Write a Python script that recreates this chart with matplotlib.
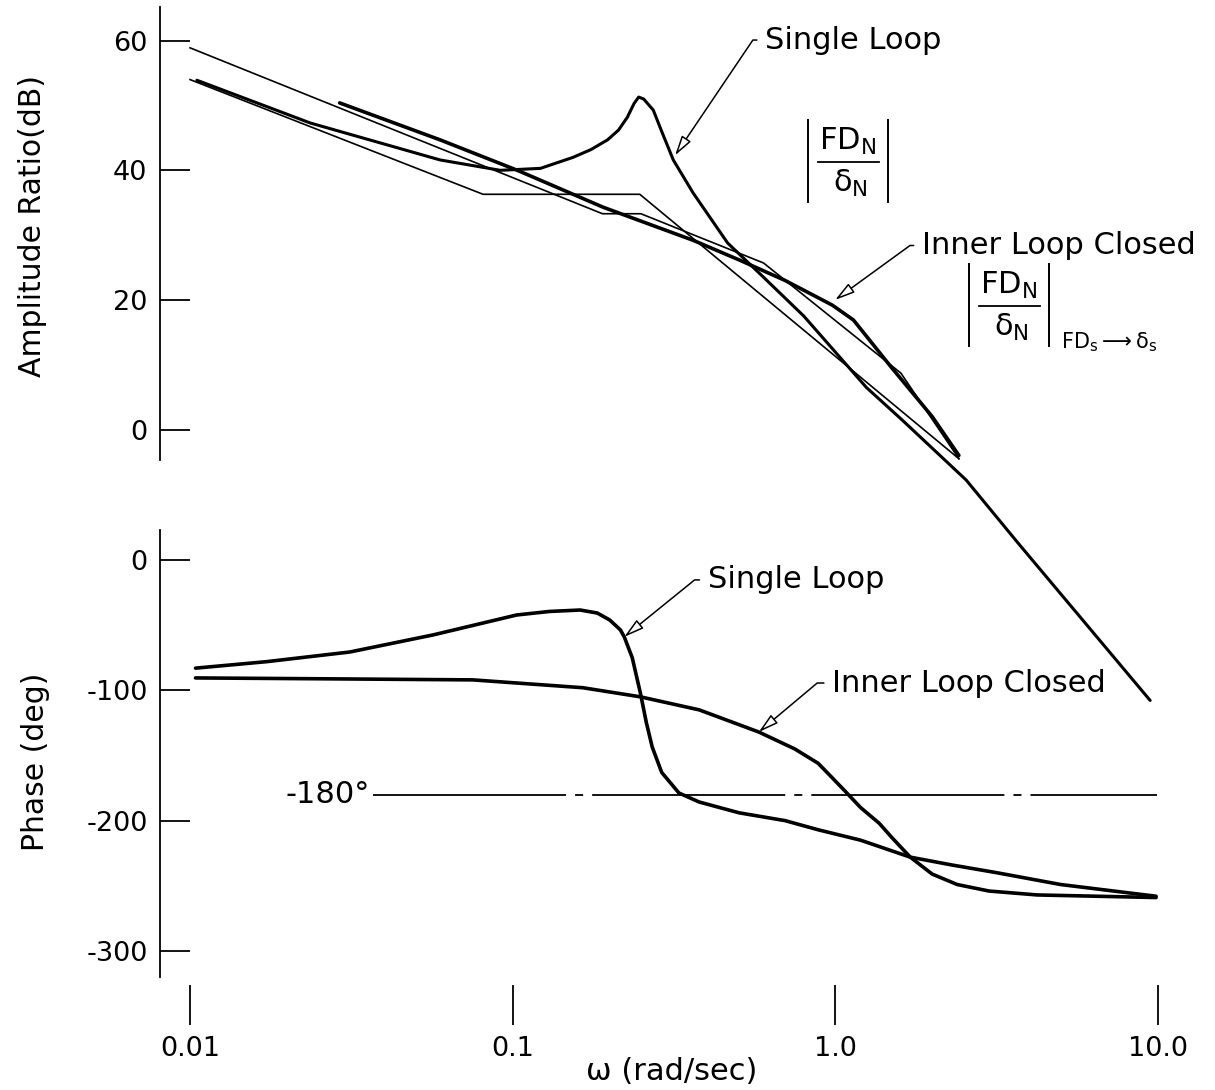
import matplotlib
matplotlib.use("Agg")
import matplotlib.pyplot as plt
from matplotlib.lines import Line2D
from matplotlib.ticker import FixedLocator, NullLocator

plt.rcParams['font.family'] = 'DejaVu Sans'
plt.rcParams['mathtext.fontset'] = 'dejavusans'
plt.rcParams['lines.scale_dashes'] = False
plt.rcParams['axes.unicode_minus'] = False

# --- amplitude ratio (dB) ---
single_w = [0.0105, 0.0236, 0.0596, 0.0916, 0.122, 0.154, 0.175, 0.197, 0.213, 0.227,
            0.238, 0.246, 0.255, 0.273, 0.29, 0.315, 0.363, 0.464, 0.6, 0.8, 1.25,
            1.62, 2.55, 3.69, 9.48]
single_db = [53.9, 47.3, 41.6, 40.0, 40.3, 42.0, 43.2, 44.7, 46.2, 48.2,
             50.3, 51.3, 51.0, 49.3, 46.0, 41.6, 36.5, 28.8, 23.5, 17.5, 6.5,
             1.4, -7.8, -17.5, -41.8]

inner_w = [0.0291, 0.0596, 0.1035, 0.191, 0.363, 0.508, 0.70, 0.98, 1.14, 1.5, 2.0, 2.42]
inner_db = [50.4, 44.7, 40.0, 34.3, 29.2, 26.1, 23.0, 19.2, 16.9, 9.5, 2.0, -4.0]

# straight-line asymptotes
single_asym_w = [0.01, 0.081, 0.248, 2.42]
single_asym_db = [54.0, 36.3, 36.3, -4.5]
inner_asym_w = [0.01, 0.19, 0.25, 0.6, 1.6, 2.42]
inner_asym_db = [58.9, 33.3, 33.3, 25.7, 8.7, -4.5]

# --- phase (deg) ---
single_ph_w = [0.0104, 0.0173, 0.0313, 0.0567, 0.103, 0.13, 0.162, 0.183, 0.2, 0.216,
               0.222, 0.235, 0.249, 0.26, 0.271, 0.29, 0.328, 0.379, 0.504, 0.7,
               0.886, 1.2, 1.71, 2.3, 3.18, 5.0, 9.89]
single_ph = [-83, -78, -70.6, -57.5, -42.2, -39.5, -38.4, -40.7, -46, -53.7,
             -59, -75, -102, -125, -143.5, -163, -178.8, -185.7, -194, -200,
             -207, -215, -228, -234, -240, -249, -258]

inner_ph_w = [0.0104, 0.031, 0.0754, 0.103, 0.165, 0.249, 0.379, 0.58, 0.75,
              0.886, 0.97, 1.08, 1.2, 1.37, 1.5, 1.71, 2.0, 2.39, 3.0, 4.23, 9.89]
inner_ph = [-90.5, -91.3, -92, -94.4, -98, -105, -115, -132, -145,
            -156, -166, -178, -190, -202, -213, -228, -241, -249, -254, -257, -259]

ref_phase = -180
ref_span = [0.037, 9.97]

x_ticks = [0.01, 0.1, 1.0, 10.0]
x_labels = ['0.01', '0.1', '1.0', '10.0']
db_ticks = [0, 20, 40, 60]
ph_ticks = [-300, -200, -100, 0]

W, H = 1215, 1090
fig = plt.figure(figsize=(W / 100, H / 100), dpi=100)


def box(x0, y0, x1, y1):
    return [x0 / W, 1 - y1 / H, (x1 - x0) / W, (y1 - y0) / H]


ax_m = fig.add_axes(box(160, 7, 1190, 460))
ax_p = fig.add_axes(box(160, 530, 1190, 985))

for ax in (ax_m, ax_p):
    ax.set_xscale('log')
    ax.set_xlim(0.00807, 12.6)
    ax.patch.set_alpha(0)
    for s in ('top', 'right', 'bottom'):
        ax.spines[s].set_visible(False)
    ax.spines['left'].set_linewidth(1.3)
    ax.xaxis.set_minor_locator(NullLocator())
    ax.tick_params(axis='y', direction='in', length=21.6, width=1.3,
                   labelsize=19.5, pad=9)

ax_m.set_ylim(-4.7, 65.2)
ax_m.yaxis.set_major_locator(FixedLocator(db_ticks))
ax_m.set_xticks([])
ax_m.set_ylabel('Amplitude Ratio(dB)', fontsize=21.5)
ax_m.yaxis.set_label_coords(-0.110, 0.517)

ax_p.set_ylim(-326.1, 23.0)
ax_p.spines['left'].set_bounds(-320, 23)
ax_p.yaxis.set_major_locator(FixedLocator(ph_ticks))
ax_p.set_xticks(x_ticks)
ax_p.set_xticklabels(x_labels)
ax_p.tick_params(axis='x', direction='out', length=28.8, width=1.3,
                 labelsize=19.5, pad=8)
ax_p.set_ylabel('Phase (deg)', fontsize=21.5)
ax_p.yaxis.set_label_coords(-0.107, 0.49)

fig.text(672 / W, 1 - 1072 / H, 'ω (rad/sec)', ha='center', va='center', fontsize=22)

# magnitude curves (allowed to run below the 0 dB end of the axis)
thick = dict(color='k', lw=2.6, clip_on=False, solid_joinstyle='round', solid_capstyle='round')
thin = dict(color='k', lw=1.2, clip_on=False)
ax_m.plot(single_asym_w, single_asym_db, **thin)
ax_m.plot(inner_asym_w, inner_asym_db, **thin)
ax_m.plot(single_w, single_db, color='k', lw=2.2, clip_on=False,
          solid_joinstyle='round', solid_capstyle='round')
ax_m.plot(inner_w, inner_db, **thick)

# phase curves
ax_p.plot(single_ph_w, single_ph, **thick)
ax_p.plot(inner_ph_w, inner_ph, **thick)
ax_p.plot(ref_span, [ref_phase, ref_phase], color='k', lw=1.3,
          dashes=(139, 6.5, 5.8, 6.5))
ax_p.text(0.036, ref_phase, '-180°', ha='right', va='center', fontsize=22)


def leader(ax, text, tip, pos, ang):
    ax.annotate(text, xy=tip, xytext=pos, ha='left', va='center', fontsize=22,
                annotation_clip=False,
                arrowprops=dict(arrowstyle='-|>,head_length=0.55,head_width=0.15',
                                fc='white', ec='k', lw=1.1, shrinkA=4, shrinkB=0,
                                connectionstyle='angle,angleA=0,angleB=%g,rad=0' % ang))


leader(ax_m, 'Single Loop', (0.319, 42.3), (0.607, 60.1), 56)
leader(ax_m, 'Inner Loop Closed', (1.0, 20.0), (1.86, 28.4), 36)
leader(ax_p, 'Single Loop', (0.222, -59), (0.403, -15.3), 39)
leader(ax_p, 'Inner Loop Closed', (0.58, -132), (0.98, -94.4), 40)


def fraction(cx, cy, sub=None):
    # |FD_N / delta_N| built from plain text, a rule and two thin bars (pixel coords)
    fx = lambda x: x / W
    fy = lambda y: 1 - y / H
    fig.text(fx(cx), fy(cy - 21), r'$\mathrm{FD_N}$', ha='center', va='center', fontsize=22)
    fig.text(fx(cx + 2), fy(cy + 21), r'$\mathrm{\delta_N}$', ha='center', va='center', fontsize=22)
    fig.add_artist(Line2D([fx(cx - 30), fx(cx + 31)], [fy(cy), fy(cy)], color='k', lw=1.3))
    for bx in (cx - 40, cx + 40):
        fig.add_artist(Line2D([fx(bx), fx(bx)], [fy(cy - 42), fy(cy + 40)], color='k', lw=1.4))
    if sub:
        fig.text(fx(cx + 52), fy(cy + 36), sub, ha='left', va='center', fontsize=15)


fraction(848, 162)
fraction(1009, 306, r'$\mathrm{FD_s}\longrightarrow\mathrm{\delta_s}$')

fig.savefig('out.png', dpi=100)
